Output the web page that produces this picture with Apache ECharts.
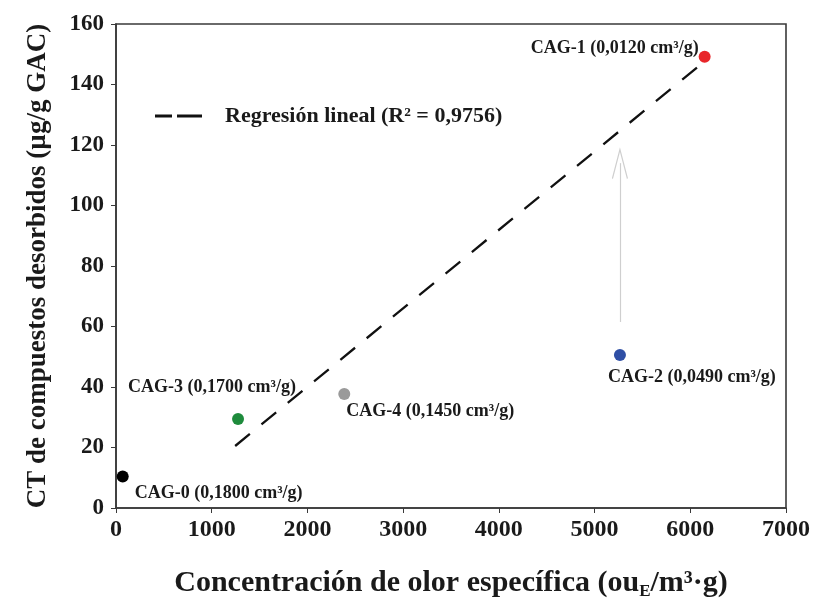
<!DOCTYPE html>
<html>
<head>
<meta charset="utf-8">
<title>CT vs concentración de olor</title>
<script src="https://cdn.jsdelivr.net/npm/echarts@6/dist/echarts.min.js"></script>
<style>
  html, body { margin: 0; padding: 0; background: #fff; }
  #main { width: 814px; height: 607px; }
</style>
</head>
<body>
<div id="main"></div>
<script>
// data
var names = ['CAG-0', 'CAG-1', 'CAG-2', 'CAG-3', 'CAG-4'];
var volumes = ['0,1800', '0,0120', '0,0490', '0,1700', '0,1450'];
var odour = [70, 6150, 5265, 1275, 2385];
var ct = [10.4, 149.2, 50.6, 29.4, 37.7];
var colors = ['#000000', '#e8262a', '#2f4fa5', '#1e8b3c', '#9a9a9a'];
// label placement: [dx, dy, side]
var labelPos = [[1, 17, 'right'], [5, -8, 'left'], [-23, 22, 'right'], [-121, -32, 'right'], [-9, 17, 'right']];

var fitX = [1245, 6105];
var fitY = [20.5, 146.5];
var arrowX = 5265;
var arrowY = [61.5, 114];

var xTicks = [0, 1000, 2000, 3000, 4000, 5000, 6000, 7000];
var yTicks = [0, 20, 40, 60, 80, 100, 120, 140, 160];

var serif = '"Liberation Serif", "DejaVu Serif", serif';
var ink = '#1a1a1a';

var chartDom = document.getElementById('main');
var myChart = echarts.init(chartDom);

var points = [];
for (var i = 0; i < names.length; i++) {
    points.push({
        value: [odour[i], ct[i]],
        itemStyle: { color: colors[i], opacity: 1 },
        label: {
            show: true,
            formatter: names[i] + ' (' + volumes[i] + ' cm³/g)',
            position: labelPos[i][2],
            offset: [labelPos[i][0], labelPos[i][1]],
            color: ink,
            fontFamily: serif,
            fontWeight: 'bold',
            fontSize: 18
        }
    });
}

var fitName = 'Regresión lineal (R² = 0,9756)';

var option = {
    animation: false,
    grid: { left: 116, right: 28, top: 24, bottom: 99, show: true, borderColor: '#3a3a3a', borderWidth: 1.6 },
    legend: {
        data: [{ name: fitName, icon: 'path://M0,0 H17 V3 H0 Z M22,0 H47 V3 H22 Z' }],
        left: 150, top: 100,
        itemWidth: 47, itemHeight: 3, itemGap: 0,
        itemStyle: { color: '#111' },
        textStyle: { fontFamily: serif, fontWeight: 'bold', fontSize: 22, color: ink, padding: [0, 0, 0, 18] }
    },
    xAxis: {
        type: 'value', min: xTicks[0], max: xTicks[xTicks.length - 1], interval: 1000,
        name: '{a|Concentración de olor específica (ou}{s|E}{a|/m³·g)}',
        nameLocation: 'middle', nameGap: 58,
        nameTextStyle: {
            rich: {
                a: { fontFamily: serif, fontWeight: 'bold', fontSize: 30, color: ink },
                s: { fontFamily: serif, fontWeight: 'bold', fontSize: 17, color: ink, padding: [17, 0, 0, 0] }
            }
        },
        axisLine: { lineStyle: { color: '#3a3a3a', width: 1.6 } },
        axisTick: { show: true, length: 5, lineStyle: { color: '#3a3a3a' } },
        axisLabel: {
            fontFamily: serif, fontWeight: 'bold', fontSize: 24, color: ink, margin: 10,
            formatter: function (v) { return String(v); }
        },
        splitLine: { show: false }
    },
    yAxis: {
        type: 'value', min: yTicks[0], max: yTicks[yTicks.length - 1], interval: 20,
        name: 'CT de compuestos desorbidos (µg/g GAC)',
        nameLocation: 'middle', nameGap: 64,
        nameTextStyle: { fontFamily: serif, fontWeight: 'bold', fontSize: 27, color: ink },
        axisLine: { lineStyle: { color: '#3a3a3a', width: 1.6 } },
        axisTick: { show: true, length: 5, lineStyle: { color: '#3a3a3a' } },
        axisLabel: {
            fontFamily: serif, fontWeight: 'bold', fontSize: 23, color: ink, margin: 12,
            formatter: function (v) { return String(v); }
        },
        splitLine: { show: false }
    },
    series: [
        {
            name: fitName,
            type: 'line',
            data: [[fitX[0], fitY[0]], [fitX[1], fitY[1]]],
            showSymbol: false,
            symbol: 'none',
            itemStyle: { color: '#111' },
            lineStyle: { color: '#111', width: 2.3, type: [19, 15] },
            z: 2
        },
        {
            name: 'flecha',
            type: 'line',
            data: [],
            markLine: {
                silent: true,
                symbol: ['none', 'path://M0,10 L5,0 L10,10 L9.4,10.4 L5,1.6 L0.6,10.4 Z'],
                symbolSize: [16, 32],
                lineStyle: { color: '#cfcfcf', width: 1.2, type: 'solid' },
                itemStyle: { color: '#cfcfcf' },
                label: { show: false },
                data: [[{ coord: [arrowX, arrowY[0]] }, { coord: [arrowX, arrowY[1]] }]]
            }
        },
        {
            name: 'muestras',
            type: 'scatter',
            symbolSize: 12,
            data: points,
            z: 3
        }
    ]
};

option && myChart.setOption(option);
</script>
</body>
</html>
